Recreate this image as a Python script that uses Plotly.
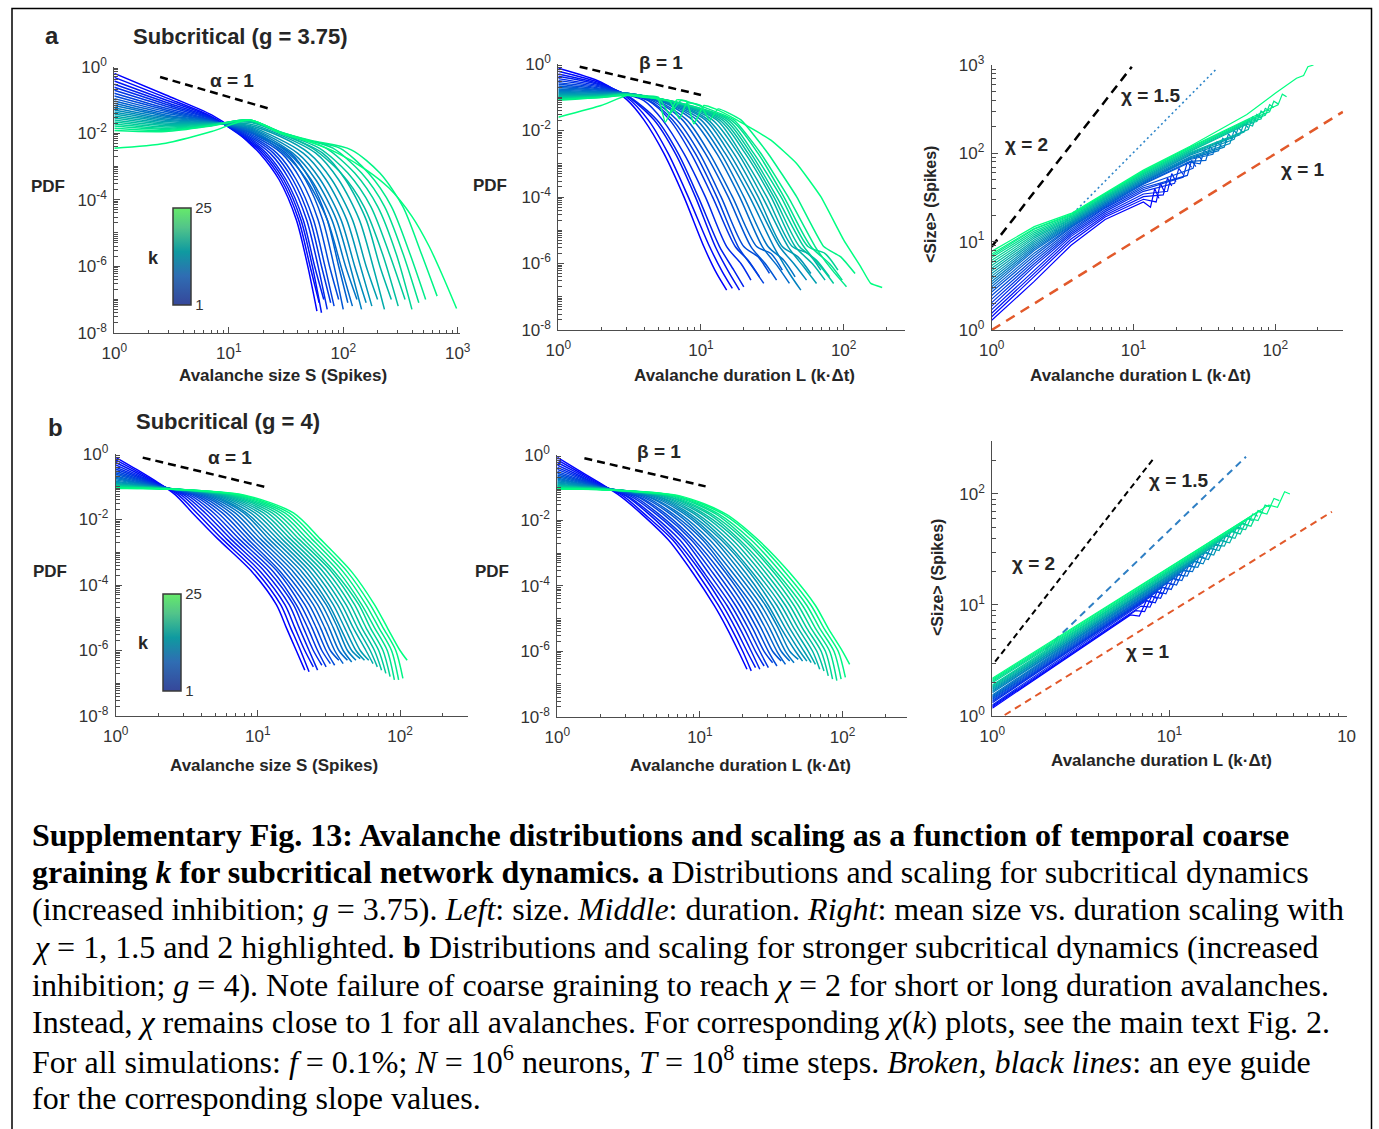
import plotly.graph_objects as go

W, H = 1379, 1129
SANS = "Liberation Sans, Arial, sans-serif"
SERIF = "Liberation Serif, Times New Roman, serif"
AX = "#4d4d4d"
TXT = "#262626"

K = list(range(1, 26))

# ---------------- data (log10 values) ----------------
# (a) g = 3.75 : avalanche size distributions, one row per k
A_SIZE_LOGX = [
    [0, .45, .85, 1.05, 1.18, 1.27, 1.44, 1.59, 1.69, 1.77],
    [0, .45, .85, 1.18, 1.29, 1.46, 1.61, 1.71, 1.79],
    [0, .45, .85, 1.18, 1.31, 1.48, 1.63, 1.73, 1.81],
    [0, .45, .85, 1.18, 1.33, 1.50, 1.65, 1.75, 1.83],
    [0, .45, .85, 1.18, 1.36, 1.53, 1.68, 1.78, 1.86],
    [0, .45, .85, 1.18, 1.39, 1.56, 1.71, 1.81, 1.89],
    [0, .45, .85, 1.18, 1.42, 1.59, 1.74, 1.84, 1.92],
    [0, .45, .85, 1.18, 1.46, 1.63, 1.78, 1.88, 1.96],
    [0, .45, .85, 1.18, 1.50, 1.67, 1.82, 1.92, 2.00],
    [0, .45, .85, 1.18, 1.54, 1.71, 1.86, 1.96, 2.04],
    [0, .45, .85, 1.18, 1.48, 1.68, 1.86, 1.98, 2.08],
    [0, .45, .85, 1.18, 1.52, 1.72, 1.90, 2.02, 2.12],
    [0, .45, .85, 1.18, 1.56, 1.76, 1.94, 2.06, 2.16],
    [0, .45, .85, 1.18, 1.60, 1.80, 1.98, 2.10, 2.20],
    [0, .45, .85, 1.18, 1.65, 1.85, 2.03, 2.15, 2.25],
    [0, .45, .85, 1.18, 1.45, 1.70, 1.90, 2.08, 2.20, 2.30],
    [0, .45, .85, 1.18, 1.45, 1.76, 1.96, 2.14, 2.26, 2.36],
    [0, .45, .85, 1.18, 1.45, 1.82, 2.02, 2.20, 2.32, 2.42],
    [0, .45, .85, 1.18, 1.45, 1.73, 1.98, 2.18, 2.34, 2.48],
    [0, .45, .85, 1.18, 1.45, 1.79, 2.04, 2.24, 2.40, 2.54],
    [0, .45, .85, 1.18, 1.45, 1.65, 1.85, 2.10, 2.30, 2.46, 2.60],
    [0, .45, .85, 1.18, 1.45, 1.68, 1.91, 2.16, 2.36, 2.52, 2.66],
    [0, .45, .85, 1.18, 1.45, 1.70, 1.97, 2.22, 2.42, 2.58, 2.72],
    [0, .45, .85, 1.18, 1.45, 1.72, 2.07, 2.32, 2.52, 2.68, 2.82],
    [0, .45, .85, 1.18, 1.45, 1.70, 1.95, 2.20, 2.40, 2.60, 2.75, 2.87, 2.99],
]
A_SIZE_LOGP = [
    [-.20, -.85, -1.45, -1.90, -2.30, -2.6, -3.4, -4.6, -6.0, -7.35],
    [-.32, -.93, -1.50, -2.26, -2.6, -3.4, -4.6, -6.0, -7.1],
    [-.43, -1.00, -1.52, -2.22, -2.6, -3.4, -4.6, -6.0, -7.4],
    [-.53, -1.07, -1.54, -2.18, -2.6, -3.4, -4.6, -6.0, -7.0],
    [-.62, -1.13, -1.56, -2.14, -2.6, -3.4, -4.6, -6.0, -7.3],
    [-.71, -1.19, -1.58, -2.10, -2.6, -3.4, -4.6, -6.0, -7.1],
    [-.80, -1.25, -1.60, -2.06, -2.6, -3.4, -4.6, -6.0, -7.2],
    [-.88, -1.30, -1.62, -2.02, -2.6, -3.4, -4.6, -6.0, -7.0],
    [-.96, -1.35, -1.63, -1.98, -2.6, -3.4, -4.6, -6.0, -7.3],
    [-1.03, -1.40, -1.64, -1.95, -2.6, -3.4, -4.6, -6.0, -7.1],
    [-1.10, -1.45, -1.65, -1.92, -2.6, -3.4, -4.6, -6.0, -7.2],
    [-1.17, -1.49, -1.66, -1.89, -2.6, -3.4, -4.6, -6.0, -7.0],
    [-1.24, -1.53, -1.67, -1.86, -2.6, -3.4, -4.6, -6.0, -7.3],
    [-1.30, -1.57, -1.68, -1.83, -2.6, -3.4, -4.6, -6.0, -7.1],
    [-1.36, -1.61, -1.69, -1.80, -2.6, -3.4, -4.6, -6.0, -7.2],
    [-1.42, -1.65, -1.70, -1.77, -2.10, -2.6, -3.4, -4.6, -6.0, -7.0],
    [-1.48, -1.69, -1.71, -1.72, -2.05, -2.6, -3.4, -4.6, -6.0, -7.3],
    [-1.54, -1.73, -1.72, -1.67, -2.00, -2.6, -3.4, -4.6, -6.0, -7.0],
    [-1.60, -1.77, -1.73, -1.64, -2.00, -2.45, -3.2, -4.2, -5.6, -7.2],
    [-1.66, -1.81, -1.74, -1.62, -1.98, -2.45, -3.2, -4.2, -5.6, -7.0],
    [-1.72, -1.85, -1.75, -1.61, -1.98, -2.20, -2.45, -3.2, -4.2, -5.6, -7.3],
    [-1.78, -1.88, -1.76, -1.60, -1.97, -2.20, -2.45, -3.2, -4.2, -5.6, -7.1],
    [-1.85, -1.92, -1.77, -1.60, -1.96, -2.22, -2.45, -3.2, -4.2, -5.6, -7.0],
    [-1.92, -1.95, -1.78, -1.60, -1.96, -2.22, -2.50, -3.2, -4.2, -5.6, -6.9],
    [-2.45, -2.30, -1.95, -1.60, -2.00, -2.25, -2.60, -3.10, -3.65, -4.50, -5.40, -6.30, -7.27],
]

# (a) g = 3.75 : avalanche duration distributions
A_DUR_LOGX = [
    [0, .3, .48, .60, .74, .88, 1.02, 1.11, 1.18],
    [0, .3, .48, .63, .77, .91, 1.06, 1.15, 1.22],
    [0, .3, .48, .67, .82, .96, 1.10, 1.20, 1.27],
    [0, .3, .48, .69, .84, .98, 1.13, 1.23, 1.30],
    [0, .3, .48, .60, .73, .88, 1.03, 1.18, 1.28, 1.35],
    [0, .3, .48, .63, .78, .93, 1.08, 1.24, 1.33, 1.41],
    [0, .3, .48, .64, .80, .96, 1.11, 1.26, 1.36, 1.44],
    [0, .3, .48, .66, .83, .99, 1.14, 1.30, 1.40, 1.48],
    [0, .3, .48, .68, .87, 1.03, 1.19, 1.35, 1.45, 1.53],
    [0, .3, .48, .69, .90, 1.06, 1.22, 1.39, 1.49, 1.57],
    [0, .3, .48, .71, .94, 1.11, 1.27, 1.43, 1.54, 1.62],
    [0, .3, .48, .72, .97, 1.14, 1.30, 1.47, 1.58, 1.66],
    [0, .3, .48, .74, 1.00, 1.17, 1.34, 1.51, 1.62, 1.70],
    [0, .3, .48, .75, 1.03, 1.20, 1.37, 1.55, 1.65, 1.74],
    [0, .3, .48, .77, 1.05, 1.23, 1.40, 1.57, 1.68, 1.77],
    [0, .3, .48, .78, 1.08, 1.26, 1.43, 1.61, 1.72, 1.81],
    [0, .3, .48, .80, 1.11, 1.28, 1.46, 1.64, 1.75, 1.84],
    [0, .3, .48, .80, 1.13, 1.31, 1.49, 1.66, 1.78, 1.87],
    [0, .3, .48, .82, 1.15, 1.33, 1.51, 1.69, 1.81, 1.90],
    [0, .3, .48, .82, 1.17, 1.35, 1.53, 1.72, 1.84, 1.93],
    [0, .3, .48, .84, 1.19, 1.37, 1.56, 1.75, 1.87, 1.96],
    [0, .3, .48, .84, 1.21, 1.40, 1.58, 1.77, 1.90, 1.99],
    [0, .3, .48, .70, .78, .86, 1.23, 1.42, 1.61, 1.80, 1.92, 2.02],
    [0, .3, .48, .78, .85, .90, 1.00, 1.06, 1.12, 1.28, 1.47, 1.67, 1.86, 1.98, 2.08],
    [0, .3, .48, .60, .70, .75, .83, .90, .95, 1.02, 1.10, 1.25, 1.49, 1.67, 1.84, 2.00, 2.12, 2.19, 2.27],
]
A_DUR_LOGP = [
    [-.13, -.55, -1.07, -1.68, -2.69, -3.99, -5.49, -6.30, -6.80],
    [-.22, -.58, -1.00, -1.68, -2.69, -3.99, -5.49, -6.25, -6.75],
    [-.30, -.61, -.96, -1.68, -2.69, -3.99, -5.49, -6.30, -6.80],
    [-.37, -.64, -.94, -1.68, -2.69, -3.99, -5.49, -6.20, -6.70],
    [-.44, -.67, -.92, -1.10, -1.68, -2.69, -3.99, -5.49, -6.00, -6.50],
    [-.50, -.70, -.91, -1.10, -1.68, -2.69, -3.99, -5.49, -5.90, -6.40],
    [-.56, -.73, -.90, -1.10, -1.68, -2.69, -3.99, -5.49, -6.10, -6.60],
    [-.61, -.76, -.90, -1.10, -1.68, -2.69, -3.99, -5.49, -5.80, -6.30],
    [-.66, -.78, -.89, -1.10, -1.68, -2.69, -3.99, -5.49, -6.00, -6.50],
    [-.71, -.80, -.89, -1.10, -1.68, -2.69, -3.99, -5.49, -5.70, -6.20],
    [-.75, -.82, -.88, -1.10, -1.68, -2.69, -3.99, -5.49, -6.10, -6.60],
    [-.79, -.84, -.88, -1.10, -1.68, -2.69, -3.99, -5.49, -5.90, -6.40],
    [-.83, -.86, -.88, -1.12, -1.68, -2.69, -3.99, -5.49, -6.30, -6.80],
    [-.86, -.88, -.88, -1.12, -1.68, -2.69, -3.99, -5.49, -6.00, -6.50],
    [-.89, -.90, -.89, -1.13, -1.68, -2.69, -3.99, -5.49, -5.80, -6.30],
    [-.92, -.92, -.89, -1.13, -1.68, -2.69, -3.99, -5.49, -6.10, -6.60],
    [-.95, -.93, -.90, -1.14, -1.68, -2.69, -3.99, -5.49, -5.70, -6.20],
    [-.97, -.94, -.90, -1.14, -1.68, -2.69, -3.99, -5.49, -6.00, -6.50],
    [-.99, -.96, -.91, -1.15, -1.68, -2.69, -3.99, -5.49, -5.90, -6.40],
    [-1.01, -.97, -.91, -1.15, -1.68, -2.69, -3.99, -5.49, -6.10, -6.60],
    [-1.03, -.98, -.92, -1.16, -1.68, -2.69, -3.99, -5.49, -5.70, -6.20],
    [-1.05, -.99, -.92, -1.16, -1.68, -2.69, -3.99, -5.49, -6.00, -6.50],
    [-1.07, -1.00, -.93, -1.00, -1.50, -1.10, -1.68, -2.69, -3.99, -5.49, -6.20, -6.70],
    [-1.09, -1.01, -.93, -1.12, -1.65, -1.17, -1.25, -1.70, -1.35, -1.68, -2.69, -3.99, -5.49, -5.80, -6.30],
    [-1.60, -1.25, -.95, -1.00, -1.05, -1.75, -1.08, -1.12, -1.80, -1.25, -1.35, -1.68, -2.29, -2.99, -3.99, -5.29, -6.10, -6.60, -6.72],
]

# (a) g = 3.75 : mean size vs duration
A_SCALE_LOGX = [
    [0, .3, .56, .8, 1.07, 1.12, 1.15, 1.18],
    [0, .3, .56, .8, 1.07, 1.16, 1.19, 1.22],
    [0, .3, .56, .8, 1.07, 1.21, 1.24, 1.27],
    [0, .3, .56, .8, 1.07, 1.24, 1.27, 1.30],
    [0, .3, .56, .8, 1.07, 1.29, 1.32, 1.35],
    [0, .3, .56, .8, 1.07, 1.35, 1.38, 1.41],
    [0, .3, .56, .8, 1.07, 1.38, 1.41, 1.44],
    [0, .3, .56, .8, 1.07, 1.42, 1.45, 1.48],
    [0, .3, .56, .8, 1.07, 1.4, 1.47, 1.50, 1.53],
    [0, .3, .56, .8, 1.07, 1.4, 1.51, 1.54, 1.57],
    [0, .3, .56, .8, 1.07, 1.4, 1.56, 1.59, 1.62],
    [0, .3, .56, .8, 1.07, 1.4, 1.60, 1.63, 1.66],
    [0, .3, .56, .8, 1.07, 1.4, 1.64, 1.67, 1.70],
    [0, .3, .56, .8, 1.07, 1.4, 1.68, 1.71, 1.74],
    [0, .3, .56, .8, 1.07, 1.4, 1.71, 1.74, 1.77],
    [0, .3, .56, .8, 1.07, 1.4, 1.75, 1.78, 1.81],
    [0, .3, .56, .8, 1.07, 1.4, 1.78, 1.81, 1.84],
    [0, .3, .56, .8, 1.07, 1.4, 1.81, 1.84, 1.87],
    [0, .3, .56, .8, 1.07, 1.4, 1.8, 1.84, 1.87, 1.90],
    [0, .3, .56, .8, 1.07, 1.4, 1.8, 1.87, 1.90, 1.93],
    [0, .3, .56, .8, 1.07, 1.4, 1.8, 1.90, 1.93, 1.96],
    [0, .3, .56, .8, 1.07, 1.4, 1.8, 1.93, 1.96, 1.99],
    [0, .3, .56, .8, 1.07, 1.4, 1.8, 1.96, 1.99, 2.02],
    [0, .3, .56, .8, 1.07, 1.4, 1.8, 2.02, 2.05, 2.08],
    [0, .3, .56, .8, 1.07, 1.4, 1.8, 2.0, 2.15, 2.2, 2.23, 2.27],
]
A_SCALE_LOGS = [
    [.11, .55, .96, 1.25, 1.45, 1.39, 1.60, 1.49],
    [.15, .60, 1.00, 1.28, 1.48, 1.45, 1.66, 1.56],
    [.19, .64, 1.03, 1.30, 1.51, 1.53, 1.72, 1.63],
    [.23, .68, 1.06, 1.32, 1.54, 1.57, 1.77, 1.68],
    [.27, .72, 1.08, 1.34, 1.57, 1.66, 1.83, 1.76],
    [.31, .75, 1.10, 1.36, 1.59, 1.73, 1.90, 1.84],
    [.35, .78, 1.12, 1.38, 1.61, 1.75, 1.92, 1.85],
    [.39, .81, 1.14, 1.39, 1.63, 1.83, 1.99, 1.93],
    [.43, .84, 1.16, 1.40, 1.65, 1.90, 1.88, 2.04, 1.98],
    [.46, .87, 1.17, 1.41, 1.66, 1.91, 1.92, 2.08, 2.02],
    [.49, .90, 1.18, 1.42, 1.67, 1.93, 1.99, 2.13, 2.08],
    [.52, .92, 1.19, 1.43, 1.68, 1.94, 2.03, 2.17, 2.12],
    [.55, .94, 1.20, 1.44, 1.69, 1.95, 2.07, 2.22, 2.16],
    [.58, .96, 1.21, 1.45, 1.70, 1.96, 2.11, 2.26, 2.20],
    [.61, .98, 1.22, 1.46, 1.71, 1.98, 2.16, 2.29, 2.24],
    [.64, 1.00, 1.23, 1.47, 1.72, 1.99, 2.21, 2.34, 2.29],
    [.67, 1.02, 1.24, 1.48, 1.73, 2.00, 2.24, 2.38, 2.33],
    [.70, 1.04, 1.25, 1.49, 1.74, 2.01, 2.27, 2.41, 2.36],
    [.73, 1.06, 1.26, 1.50, 1.75, 2.02, 2.33, 2.31, 2.44, 2.40],
    [.76, 1.08, 1.27, 1.51, 1.76, 2.03, 2.34, 2.36, 2.48, 2.44],
    [.79, 1.10, 1.28, 1.52, 1.77, 2.04, 2.35, 2.39, 2.51, 2.48],
    [.82, 1.12, 1.29, 1.53, 1.78, 2.05, 2.36, 2.43, 2.55, 2.52],
    [.84, 1.14, 1.30, 1.54, 1.79, 2.06, 2.37, 2.47, 2.59, 2.56],
    [.86, 1.15, 1.31, 1.54, 1.80, 2.07, 2.38, 2.55, 2.67, 2.64],
    [.89, 1.17, 1.32, 1.55, 1.81, 2.08, 2.44, 2.68, 2.85, 2.88, 2.98, 3.00],
]

# (b) g = 4 : size distributions, head on a common grid, tail on common levels
B_SIZE_HEAD_LOGX = [0, .15, .30]
B_SIZE_HEAD_LOGP = [
    [-.10, -.48, -.88], [-.18, -.53, -.90], [-.26, -.58, -.92], [-.33, -.63, -.94],
    [-.40, -.67, -.95], [-.46, -.71, -.96], [-.52, -.75, -.97], [-.57, -.78, -.98],
    [-.62, -.81, -.99], [-.67, -.84, -1.00], [-.71, -.87, -1.00], [-.75, -.89, -1.01],
    [-.79, -.91, -1.01], [-.83, -.93, -1.02], [-.86, -.95, -1.02], [-.89, -.97, -1.03],
    [-.92, -.98, -1.03], [-.94, -.99, -1.04], [-.96, -1.00, -1.04], [-.98, -1.01, -1.05],
    [-1.00, -1.02, -1.05], [-1.01, -1.03, -1.05], [-1.02, -1.04, -1.06], [-1.04, -1.05, -1.06],
    [-1.05, -1.05, -1.06],
]
B_SIZE_TAIL_LOGP = [-1.25, -1.8, -2.6, -3.6, -4.6, -5.3, -6.0]
B_SIZE_END_LOGP = [-6.60, -6.65, -6.50, -6.60, -6.45, -6.50, -6.40, -6.45, -6.30, -6.40,
                   -6.30, -6.35, -6.30, -6.25, -6.30, -6.30, -6.40, -6.50, -6.60, -6.70,
                   -6.80, -6.90, -6.90, -6.85, -6.30]
B_SIZE_TAIL_LOGX = [
    [.42, .54, .72, .96, 1.13, 1.20, 1.27, 1.33],
    [.44, .57, .75, .99, 1.16, 1.23, 1.30, 1.36],
    [.46, .60, .78, 1.02, 1.19, 1.26, 1.33, 1.39],
    [.48, .63, .81, 1.05, 1.22, 1.29, 1.36, 1.42],
    [.50, .66, .84, 1.08, 1.25, 1.32, 1.39, 1.45],
    [.52, .69, .87, 1.11, 1.27, 1.35, 1.42, 1.48],
    [.54, .72, .90, 1.14, 1.30, 1.38, 1.45, 1.51],
    [.56, .75, .93, 1.16, 1.33, 1.41, 1.48, 1.54],
    [.58, .78, .96, 1.19, 1.36, 1.44, 1.51, 1.57],
    [.60, .81, .99, 1.22, 1.39, 1.47, 1.54, 1.60],
    [.62, .84, 1.02, 1.25, 1.42, 1.50, 1.57, 1.63],
    [.64, .87, 1.05, 1.28, 1.45, 1.53, 1.60, 1.66],
    [.66, .90, 1.08, 1.31, 1.48, 1.56, 1.63, 1.69],
    [.68, .92, 1.11, 1.34, 1.50, 1.58, 1.66, 1.72],
    [.70, .95, 1.14, 1.37, 1.53, 1.61, 1.69, 1.75],
    [.72, .98, 1.17, 1.40, 1.56, 1.64, 1.72, 1.78],
    [.74, 1.01, 1.20, 1.43, 1.59, 1.67, 1.76, 1.81],
    [.76, 1.04, 1.23, 1.46, 1.62, 1.70, 1.79, 1.84],
    [.78, 1.07, 1.26, 1.49, 1.65, 1.73, 1.82, 1.87],
    [.80, 1.10, 1.29, 1.52, 1.68, 1.76, 1.85, 1.90],
    [.82, 1.13, 1.32, 1.54, 1.71, 1.79, 1.88, 1.93],
    [.84, 1.16, 1.35, 1.57, 1.73, 1.82, 1.91, 1.96],
    [.86, 1.19, 1.38, 1.60, 1.76, 1.85, 1.94, 1.99],
    [.88, 1.22, 1.41, 1.63, 1.79, 1.88, 1.97, 2.02],
    [.90, 1.25, 1.44, 1.66, 1.82, 1.91, 2.00, 2.05],
]

# (b) g = 4 : duration distributions
B_DUR_HEAD_LOGX = [0, .15, .30]
B_DUR_HEAD_LOGP = [
    [-.07, -.47, -.86], [-.15, -.52, -.89], [-.23, -.57, -.91], [-.31, -.62, -.93],
    [-.38, -.66, -.94], [-.44, -.70, -.95], [-.50, -.74, -.96], [-.56, -.77, -.97],
    [-.61, -.80, -.98], [-.66, -.83, -.99], [-.70, -.86, -.99], [-.74, -.88, -1.00],
    [-.78, -.90, -1.00], [-.82, -.92, -1.01], [-.85, -.94, -1.01], [-.88, -.96, -1.02],
    [-.91, -.97, -1.02], [-.93, -.98, -1.03], [-.95, -.99, -1.03], [-.97, -1.00, -1.04],
    [-.99, -1.01, -1.04], [-1.00, -1.02, -1.05], [-1.02, -1.03, -1.05], [-1.03, -1.04, -1.06],
    [-1.05, -1.05, -1.06],
]
B_DUR_TAIL_LOGP = [-1.25, -1.8, -2.6, -3.6, -4.6, -5.3, -6.0]
B_DUR_END_LOGP = [-6.55, -6.60, -6.50, -6.55, -6.45, -6.50, -6.35, -6.45, -6.30, -6.40,
                  -6.30, -6.35, -6.25, -6.30, -6.30, -6.35, -6.40, -6.55, -6.60, -6.75,
                  -6.85, -6.90, -6.85, -6.80, -6.40]
B_DUR_TAIL_LOGX = [
    [.44, .59, .78, .95, 1.10, 1.19, 1.27, 1.33],
    [.46, .61, .81, .98, 1.13, 1.22, 1.30, 1.36],
    [.48, .64, .83, 1.01, 1.16, 1.25, 1.33, 1.39],
    [.49, .66, .86, 1.03, 1.19, 1.28, 1.36, 1.42],
    [.51, .69, .89, 1.06, 1.22, 1.31, 1.39, 1.45],
    [.53, .71, .91, 1.09, 1.25, 1.34, 1.42, 1.48],
    [.55, .74, .94, 1.12, 1.28, 1.37, 1.45, 1.51],
    [.56, .76, .96, 1.15, 1.31, 1.40, 1.48, 1.54],
    [.58, .79, .99, 1.18, 1.34, 1.43, 1.51, 1.57],
    [.60, .81, 1.02, 1.20, 1.37, 1.46, 1.54, 1.60],
    [.62, .84, 1.04, 1.23, 1.40, 1.49, 1.57, 1.63],
    [.63, .86, 1.07, 1.26, 1.43, 1.52, 1.60, 1.66],
    [.65, .89, 1.10, 1.29, 1.46, 1.55, 1.63, 1.69],
    [.67, .91, 1.12, 1.32, 1.48, 1.57, 1.67, 1.72],
    [.69, .93, 1.15, 1.35, 1.51, 1.60, 1.70, 1.75],
    [.70, .96, 1.17, 1.37, 1.54, 1.63, 1.73, 1.78],
    [.72, .98, 1.20, 1.40, 1.57, 1.66, 1.76, 1.81],
    [.74, 1.01, 1.23, 1.43, 1.60, 1.69, 1.79, 1.84],
    [.76, 1.03, 1.26, 1.46, 1.63, 1.72, 1.82, 1.87],
    [.77, 1.06, 1.28, 1.49, 1.66, 1.75, 1.85, 1.90],
    [.79, 1.08, 1.31, 1.52, 1.69, 1.78, 1.88, 1.93],
    [.81, 1.11, 1.33, 1.54, 1.72, 1.81, 1.91, 1.96],
    [.83, 1.13, 1.36, 1.57, 1.75, 1.84, 1.94, 1.99],
    [.84, 1.16, 1.39, 1.60, 1.78, 1.87, 1.97, 2.02],
    [.86, 1.18, 1.41, 1.63, 1.81, 1.90, 2.00, 2.05],
]

# (b) g = 4 : mean size vs duration
B_SCALE_LOGX = [
    [0, .5, .78, .83, .87, .90], [0, .5, .81, .86, .90, .93], [0, .5, .84, .89, .93, .96],
    [0, .5, .87, .92, .96, .99], [0, .5, .90, .95, .99, 1.02], [0, .5, .93, .98, 1.02, 1.05],
    [0, .5, .96, 1.01, 1.05, 1.08], [0, .5, .99, 1.04, 1.08, 1.11], [0, .5, 1.02, 1.07, 1.11, 1.14],
    [0, .5, 1.05, 1.10, 1.14, 1.17], [0, .5, 1.08, 1.13, 1.17, 1.20], [0, .5, 1.11, 1.16, 1.20, 1.23],
    [0, .5, 1.14, 1.19, 1.23, 1.26], [0, .5, 1.17, 1.22, 1.26, 1.29], [0, .5, 1.20, 1.25, 1.29, 1.32],
    [0, .5, 1.23, 1.28, 1.32, 1.35], [0, .5, 1.26, 1.31, 1.35, 1.38], [0, .5, 1.29, 1.34, 1.38, 1.41],
    [0, .5, 1.32, 1.37, 1.41, 1.44], [0, .5, 1.35, 1.40, 1.44, 1.47], [0, .5, 1.38, 1.43, 1.47, 1.50],
    [0, .5, 1.41, 1.46, 1.50, 1.53], [0, .5, 1.45, 1.50, 1.54, 1.57], [0, .5, 1.50, 1.55, 1.59, 1.62],
    [0, .5, 1.56, 1.61, 1.65, 1.68],
]
B_SCALE_LOGS = [
    [.07, .61, .91, .90, 1.04, 1.02], [.08, .62, .95, .94, 1.08, 1.06], [.09, .63, .99, .98, 1.12, 1.10],
    [.10, .64, 1.04, 1.02, 1.16, 1.14], [.12, .65, 1.08, 1.06, 1.20, 1.18], [.13, .66, 1.12, 1.10, 1.24, 1.22],
    [.14, .67, 1.16, 1.14, 1.28, 1.26], [.15, .68, 1.20, 1.18, 1.32, 1.30], [.16, .69, 1.24, 1.22, 1.36, 1.34],
    [.17, .70, 1.27, 1.26, 1.40, 1.38], [.18, .71, 1.31, 1.30, 1.44, 1.42], [.19, .72, 1.35, 1.34, 1.48, 1.46],
    [.21, .73, 1.39, 1.37, 1.51, 1.50], [.22, .74, 1.43, 1.41, 1.55, 1.53], [.23, .75, 1.47, 1.45, 1.59, 1.57],
    [.24, .75, 1.51, 1.49, 1.63, 1.61], [.25, .76, 1.54, 1.53, 1.67, 1.65], [.26, .77, 1.58, 1.56, 1.70, 1.69],
    [.27, .78, 1.62, 1.60, 1.74, 1.72], [.28, .79, 1.66, 1.64, 1.78, 1.76], [.30, .80, 1.69, 1.68, 1.82, 1.80],
    [.31, .81, 1.73, 1.71, 1.85, 1.83], [.32, .82, 1.78, 1.76, 1.90, 1.88], [.33, .83, 1.84, 1.82, 1.96, 1.94],
    [.34, .84, 1.90, 1.88, 2.02, 2.00],
]

# eye-guide lines (log10 end points)
GUIDE_A_SIZE = ([0.40, 1.34], [-0.31, -1.25])
GUIDE_A_DUR = ([0.15, 1.0], [-0.08, -0.93])
GUIDE_B_SIZE = ([0.19, 1.045], [-0.11, -1.0])
GUIDE_B_DUR = ([0.19, 1.04], [-0.10, -0.96])
GUIDE_A_CHI2 = ([0.0, 0.988], [0.943, 2.98])
GUIDE_A_CHI15 = ([0.45, 1.588], [1.12, 2.96])
GUIDE_A_CHI1 = ([0.0, 2.477], [0.0, 2.47])
GUIDE_B_CHI2 = ([0.016, 0.906], [0.489, 2.31])
GUIDE_B_CHI15 = ([0.30, 1.432], [0.60, 2.336])
GUIDE_B_CHI1 = ([0.07, 1.917], [0.009, 1.84])

CBAR_COLORS = [[0, "#36479a"], [0.3, "#2f6db3"], [0.55, "#0f9aa0"], [0.8, "#52c48a"], [1, "#66ea6a"]]


def winter(k):
    t = (k - 1) / 24
    return "rgb(0,%d,%d)" % (round(255 * t), round(255 * (1 - 0.5 * t)))


def pw(v):
    return [10 ** a for a in v]


def fx(px):
    """pixel column -> paper fraction"""
    return px / W


def fy(py):
    """pixel row -> paper fraction"""
    return 1 - py / H


fig = go.Figure()

# ---------------- axes ----------------
PANELS = {
    # name: (x0, x1, top, bottom) in px, xrange, yrange
    "1": ((114.3, 460.0, 66.7, 332.7), [0, 3.02], [-8, 0]),
    "2": ((558.3, 905.0, 64.0, 330.0), [0, 2.43], [-8, 0]),
    "3": ((991.7, 1343.3, 65.0, 330.0), [0, 2.48], [0, 3]),
    "4": ((115.7, 468.3, 454.0, 716.0), [0, 2.48], [-8, 0]),
    "5": ((557.3, 906.7, 455.0, 716.7), [0, 2.45], [-8, 0]),
    "6": ((992.3, 1346.7, 440.7, 716.0), [0, 2.0005], [0, 2.48]),
}


def dec_label(d):
    return "10<sup>%d</sup>" % d


def minor_vals(lo, hi, extra=()):
    vals = [m * 10 ** d for d in range(lo, hi + 1) for m in range(2, 10)]
    return sorted(vals + [10 ** d for d in extra])


layout_axes = {}
for name, (box, xr, yr) in PANELS.items():
    x0, x1, top, bot = box
    sfx = "" if name == "1" else name
    xdec = list(range(int(xr[0]), int(xr[1] + 1e-9) + 1))
    xt = [dec_label(d) for d in xdec]
    if name == "6":
        xt[-1] = "10"
    ydec = list(range(int(yr[0]), int(yr[1]) + 1))
    if yr[0] < 0:
        ymaj = [d for d in ydec if d % 2 == 0]
        yodd = [d for d in ydec if d % 2 != 0]
    else:
        ymaj, yodd = ydec, []
    common = dict(type="log", showline=True, linecolor=AX, linewidth=1, ticks="inside",
                  ticklen=6, tickwidth=1, tickcolor=AX, showgrid=False, zeroline=False,
                  tickfont=dict(family=SANS, size=17, color="#333333"))
    layout_axes["xaxis" + sfx] = dict(
        common, domain=[fx(x0), fx(x1)], range=xr, anchor="y" + sfx,
        tickvals=[10 ** d for d in xdec], ticktext=xt, ticklabelstandoff=5,
        minor=dict(tickmode="array", tickvals=minor_vals(int(xr[0]), int(xr[1])),
                   ticks="inside", ticklen=3, tickcolor=AX, showgrid=False))
    layout_axes["yaxis" + sfx] = dict(
        common, domain=[fy(bot), fy(top)], range=yr, anchor="x" + sfx,
        tickvals=[10 ** d for d in ymaj], ticktext=[dec_label(d) for d in ymaj],
        ticklabelstandoff=3,
        minor=dict(tickmode="array", tickvals=minor_vals(int(yr[0]), int(yr[1]), yodd),
                   ticks="inside", ticklen=4, tickcolor=AX, showgrid=False))


def ax(name):
    sfx = "" if name == "1" else name
    return "x" + sfx, "y" + sfx


def guide(name, pts, color="black", width=2.5, dash="8px,5px"):
    xa, ya = ax(name)
    fig.add_trace(go.Scatter(x=pw(pts[0]), y=pw(pts[1]), mode="lines", xaxis=xa, yaxis=ya,
                             line=dict(color=color, width=width, dash=dash),
                             showlegend=False, hoverinfo="skip"))


def curve(name, k, lx, ly, width=1.5, shape="spline", smoothing=0.8):
    xa, ya = ax(name)
    fig.add_trace(go.Scatter(x=pw(lx), y=pw(ly), mode="lines", xaxis=xa, yaxis=ya,
                             line=dict(color=winter(k), width=width, shape=shape,
                                       smoothing=smoothing),
                             showlegend=False, hoverinfo="skip"))


# guides first, curves on top
guide("1", GUIDE_A_SIZE)
guide("2", GUIDE_A_DUR)
guide("4", GUIDE_B_SIZE)
guide("5", GUIDE_B_DUR)
guide("3", GUIDE_A_CHI15, color="#2f86c9", width=1.6, dash="2px,3px")
guide("3", GUIDE_A_CHI2, width=2.5, dash="9px,6px")
guide("3", GUIDE_A_CHI1, color="#e2592a", width=2.5, dash="10px,7px")
guide("6", GUIDE_B_CHI15, color="#2f7fc4", width=2, dash="7px,5px")
guide("6", GUIDE_B_CHI2, width=2, dash="6px,4px")
guide("6", GUIDE_B_CHI1, color="#e2592a", width=2, dash="7px,5px")

for i, k in enumerate(K):
    curve("1", k, A_SIZE_LOGX[i], A_SIZE_LOGP[i])
    curve("2", k, A_DUR_LOGX[i], A_DUR_LOGP[i], smoothing=0.4 if k >= 23 else 0.8)
    curve("3", k, A_SCALE_LOGX[i], A_SCALE_LOGS[i], width=1.2, shape="linear")
    curve("4", k, B_SIZE_HEAD_LOGX + B_SIZE_TAIL_LOGX[i],
          B_SIZE_HEAD_LOGP[i] + B_SIZE_TAIL_LOGP + [B_SIZE_END_LOGP[i]])
    curve("5", k, B_DUR_HEAD_LOGX + B_DUR_TAIL_LOGX[i],
          B_DUR_HEAD_LOGP[i] + B_DUR_TAIL_LOGP + [B_DUR_END_LOGP[i]])
    curve("6", k, B_SCALE_LOGX[i], B_SCALE_LOGS[i], width=1.2, shape="linear")


# colour bars for k
def kbar(name, px0, ptop, pbot):
    xa, ya = ax(name)
    fig.add_trace(go.Scatter(
        x=[1e-3], y=[1e-12], mode="markers", xaxis=xa, yaxis=ya, showlegend=False, hoverinfo="skip",
        marker=dict(color=[1], cmin=1, cmax=25, colorscale=CBAR_COLORS, showscale=True,
                    colorbar=dict(x=fx(px0), xanchor="left", y=fy((ptop + pbot) / 2),
                                  yanchor="middle", lenmode="pixels", len=pbot - ptop,
                                  thickness=18, outlinewidth=1.5, outlinecolor="#3a3a3a",
                                  xpad=0, ypad=0, tickvals=[1, 25], ticktext=["1", "25"],
                                  ticks="", tickfont=dict(family=SANS, size=15, color="#333333")))))


kbar("1", 173, 208, 305)
kbar("4", 163, 594, 691)


# ---------------- text ----------------
def ann(text, px, py, size, bold=True, angle=0, xanchor="center", family=SANS, color=TXT):
    return dict(text=("<b>%s</b>" % text) if bold else text, x=fx(px), y=fy(py),
                xref="paper", yref="paper", xanchor=xanchor, yanchor="middle", showarrow=False,
                textangle=angle, font=dict(family=family, size=size, color=color))


annotations = [
    ann("a", 52, 35, 24), ann("Subcritical (g = 3.75)", 240, 36, 22),
    ann("b", 55, 427, 24), ann("Subcritical (g = 4)", 228, 422, 22),
    ann("PDF", 48, 186, 17), ann("PDF", 490, 185, 17),
    ann("PDF", 50, 571, 17), ann("PDF", 492, 571, 17),
    ann("Avalanche size S (Spikes)", 283, 376, 17),
    ann("Avalanche duration L (k·Δt)", 744, 375, 17),
    ann("Avalanche duration L (k·Δt)", 1140, 375, 17),
    ann("Avalanche size S (Spikes)", 274, 765, 17),
    ann("Avalanche duration L (k·Δt)", 740, 765, 17),
    ann("Avalanche duration L (k·Δt)", 1161, 760, 17),
    ann("&lt;Size&gt; (Spikes)", 930, 205, 16, angle=-90),
    ann("&lt;Size&gt; (Spikes)", 937, 578, 16, angle=-90),
    ann("k", 153, 258, 18), ann("k", 143, 643, 18),
    ann("α = 1", 232, 80, 19), ann("β = 1", 661, 62, 19),
    ann("α = 1", 230, 457, 19), ann("β = 1", 659, 451, 19),
    ann("χ = 1.5", 1150, 96, 19), ann("χ = 2", 1026, 145, 19), ann("χ = 1", 1303, 170, 19),
    ann("χ = 2", 1033, 563, 19), ann("χ = 1.5", 1178, 481, 19), ann("χ = 1", 1148, 651, 19),
]

CAPTION_LINES = [
    "<b>Supplementary Fig. 13: Avalanche distributions and scaling as a function of temporal coarse</b>",
    "<b>graining <i>k</i> for subcritical network dynamics. a</b> Distributions and scaling for subcritical dynamics",
    "(increased inhibition; <i>g</i> = 3.75). <i>Left</i>: size. <i>Middle</i>: duration. <i>Right</i>: mean size vs. duration scaling with",
    "<i>χ</i> = 1, 1.5 and 2 highlighted. <b>b</b> Distributions and scaling for stronger subcritical dynamics (increased",
    "inhibition; <i>g</i> = 4). Note failure of coarse graining to reach <i>χ</i> = 2 for short or long duration avalanches.",
    "Instead, <i>χ</i> remains close to 1 for all avalanches. For corresponding <i>χ</i>(<i>k</i>) plots, see the main text Fig. 2.",
    "For all simulations: <i>f</i> = 0.1%; <i>N</i> = 10<sup>6</sup> neurons, <i>T</i> = 10<sup>8</sup> time steps. <i>Broken, black lines</i>: an eye guide",
    "for the corresponding slope values.",
]
CAPTION_Y = [835, 872, 909, 947, 985, 1022, 1060, 1098]
for line, py in zip(CAPTION_LINES, CAPTION_Y):
    annotations.append(ann(line, 30, py, 32, bold=False, xanchor="left", family=SERIF, color="black"))

# outer frame
shapes = [dict(type="rect", xref="paper", yref="paper", x0=fx(12), x1=fx(1371.5), y0=-0.01,
               y1=fy(8.5), line=dict(color="black", width=1.5), fillcolor="rgba(0,0,0,0)")]

fig.update_layout(width=W, height=H, autosize=False,
                  margin=dict(l=0, r=0, t=0, b=0, pad=0, autoexpand=False),
                  paper_bgcolor="white", plot_bgcolor="white", showlegend=False,
                  annotations=annotations, shapes=shapes, **layout_axes)

fig.write_html("out.html")
